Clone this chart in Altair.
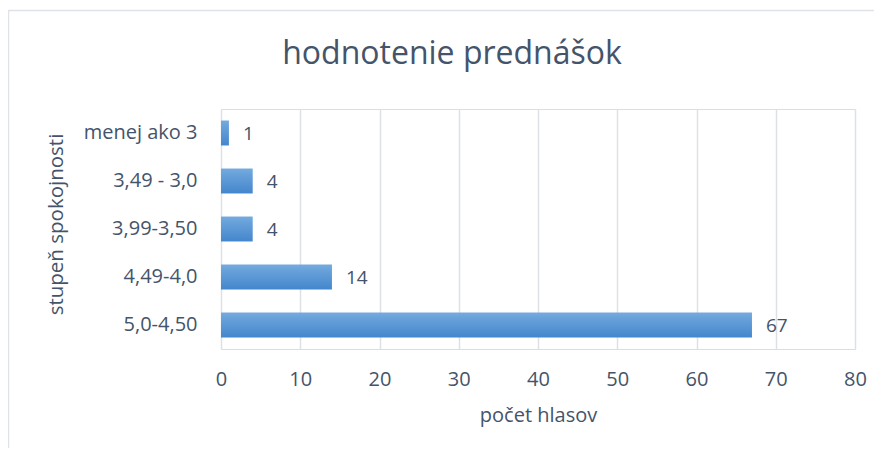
import altair as alt
import pandas as pd

categories = ["menej ako 3", "3,49 - 3,0", "3,99-3,50", "4,49-4,0", "5,0-4,50"]
votes = [1, 4, 4, 14, 67]
chart_title = ["hodnotenie prednášok"]

df = pd.DataFrame({"cat": categories, "votes": votes})

FONT = "Open Sans"
TXT = "#44546A"
GRID = "#dde1e6"

y_enc = alt.Y("cat:N", sort=categories,
              scale=alt.Scale(paddingInner=0.48, paddingOuter=0.24),
              axis=alt.Axis(title="stupeň spokojnosti", labelFontSize=20, labelFont=FONT,
                            labelColor=TXT, labelPadding=24, ticks=False, domain=False,
                            titleFontSize=20.5, titleFont=FONT, titleColor=TXT,
                            titleFontWeight="normal", titleAngle=-90,
                            titleAlign="center", titleBaseline="middle",
                            titleX=-165, titleY=115))
x_enc = alt.X("votes:Q", scale=alt.Scale(domain=[0, 80]),
              axis=alt.Axis(title="počet hlasov", values=[0, 10, 20, 30, 40, 50, 60, 70, 80],
                            labelFontSize=20, labelFont=FONT, labelColor=TXT,
                            labelPadding=20, labelFlush=False, ticks=False, domain=False,
                            grid=True, gridColor=GRID, gridWidth=1.5,
                            titleFontSize=20, titleFont=FONT, titleColor=TXT,
                            titleFontWeight="normal", titleBaseline="middle",
                            titleY=66))

grad = alt.Gradient(gradient="linear",
                    stops=[alt.GradientStop(color="#74aadf", offset=0),
                           alt.GradientStop(color="#5b98d6", offset=0.5),
                           alt.GradientStop(color="#4486cc", offset=1)],
                    x1=0, x2=0, y1=0, y2=1)

bars = alt.Chart(df).mark_bar(color=grad).encode(x=x_enc, y=y_enc)
labels = alt.Chart(df).mark_text(align="left", baseline="middle", dx=14, dy=1,
                                 font=FONT, fontSize=19, color=TXT).encode(
    x="votes:Q", y=alt.Y("cat:N", sort=categories), text="votes:Q")

frame = pd.DataFrame({"a": [0]})
top_line = alt.Chart(frame).mark_rule(color="#dfe3e8", strokeWidth=1.5).encode(
    x=alt.value(-213), x2=alt.value(653), y=alt.value(-98.5))
left_line = alt.Chart(frame).mark_rule(color="#dfe3e8", strokeWidth=1.5).encode(
    x=alt.value(-212.5), y=alt.value(-99), y2=alt.value(339))

title_df = pd.DataFrame({"t": chart_title})
title = alt.Chart(title_df).mark_text(font=FONT, fontSize=32, color=TXT,
                                      align="center", baseline="alphabetic").encode(
    x=alt.value(231), y=alt.value(-45), text="t:N")

chart = alt.layer(top_line, left_line, bars, labels, title).properties(
    width=634, height=240,
    autosize=alt.AutoSizeParams(type="none"),
    padding={"left": 213, "top": 101, "right": 19, "bottom": 99},
).configure_view(stroke=None).configure(background="white")

chart.save("out.html", embed_options={"renderer": "svg", "actions": False})
